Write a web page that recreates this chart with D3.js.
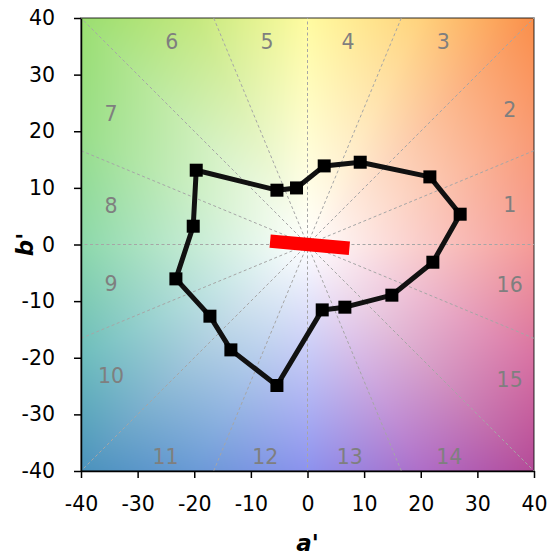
<!DOCTYPE html>
<html lang="en">
<head>
    <meta charset="UTF-8">
    <script src="https://d3js.org/d3.v7.min.js"></script>
    <title>Color vector graphic</title>
    <style>
      body {
         margin: 0;
         background: #ffffff;
      }
      svg {
         display: block;
         font-family: 'DejaVu Sans', sans-serif;
      }
    </style>
</head>
<body>
    <div id="wrapper"></div>

<script>
   // tick values for both axes
   const axisTicks = [-40, -30, -20, -10, 0, 10, 20, 30, 40];

   // hue bin labels (16 bins of 22.5 deg each)
   const binLabels = ["1","2","3","4","5","6","7","8","9","10","11","12","13","14","15","16"];

   // test source, one point per hue bin
   const testA = [26.96, 21.61, 9.31, 2.95, -1.94, -5.40, -19.65, -20.18, -23.24, -17.23, -13.53, -5.40, 2.60, 6.60, 14.90, 22.14];
   const testB = [5.35, 11.94, 14.53, 13.88, 9.99, 9.59, 13.12, 3.23, -6.07, -12.66, -18.61, -24.90, -11.55, -11.07, -8.95, -3.13];

   // red chroma shift bar
   const shiftA = [-6.6, 7.4];
   const shiftB = [0.6, -0.65];

   // colours along the border of the plane, going round from a'=40,b'=0 anti-clockwise
   const edgeColors = ["#f59b96", "#f99a72", "#fa8f4a", "#ffd27d", "#fffba0", "#c4e87e", "#9ade70", "#98de88",
                       "#8cd8aa", "#6cbcbc", "#4a92bc", "#6a9ad6", "#8c92ee", "#ae6ec8", "#b44a98", "#d872a2"];

   let dimensions, bounds, xScale, yScale;

   drawChart();

   function drawChart(){
      CreateChartDimension();
      DrawCanvas();
      CreateScales();
      DrawBackground();
      DrawBins();
      DrawData();
      DrawPeripherals();
   }

   function CreateChartDimension(){
      dimensions = {
         width: 555,
         height: 558,
         margin: {
            top: 18,
            right: 21,
            bottom: 87,
            left: 81
         }
      }
      dimensions.boundedWidth = dimensions.width - dimensions.margin.left - dimensions.margin.right;
      dimensions.boundedHeight = dimensions.height - dimensions.margin.top - dimensions.margin.bottom;
   }

   function DrawCanvas(){
      const wrapper = d3.select("#wrapper")
         .append("svg")
            .attr("width", dimensions.width)
            .attr("height", dimensions.height);

      bounds = wrapper.append("g")
         .attr("transform", "translate(" + dimensions.margin.left + "," + dimensions.margin.top + ")");
   }

   function CreateScales(){
      xScale = d3.scaleLinear()
         .domain([-40, 40])
         .range([0, dimensions.boundedWidth]);
      yScale = d3.scaleLinear()
         .domain([-40, 40])
         .range([dimensions.boundedHeight, 0]);
   }

   function DrawBackground(){
      const w = Math.round(dimensions.boundedWidth);
      const h = Math.round(dimensions.boundedHeight);
      const canvas = document.createElement("canvas");
      canvas.width = w;
      canvas.height = h;
      const ctx = canvas.getContext("2d");
      const img = ctx.createImageData(w, h);
      const cols = edgeColors.map(c => d3.rgb(c));
      const maxV = 40;

      for (let py = 0; py < h; py++) {
         const b = yScale.invert(py + 0.5);
         for (let px = 0; px < w; px++) {
            const a = xScale.invert(px + 0.5);
            const m = Math.max(Math.abs(a), Math.abs(b), 1e-6);
            const s = maxV / m;
            const pa = a * s, pb = b * s;
            // position along the border, 0..16
            let u;
            if (pa >= maxV - 1e-9) u = pb >= 0 ? pb / 20 : 16 + pb / 20;
            else if (pb >= maxV - 1e-9) u = 2 + (maxV - pa) / 20;
            else if (pa <= -maxV + 1e-9) u = 6 + (maxV - pb) / 20;
            else u = 10 + (pa + maxV) / 20;
            u = ((u % 16) + 16) % 16;
            const i = Math.floor(u), f = u - i;
            const c0 = cols[i], c1 = cols[(i + 1) % 16];
            const t = Math.min(1, m / maxV);
            const r = c0.r + (c1.r - c0.r) * f;
            const g = c0.g + (c1.g - c0.g) * f;
            const bl = c0.b + (c1.b - c0.b) * f;
            const k = (py * w + px) * 4;
            img.data[k] = 255 + (r - 255) * t;
            img.data[k + 1] = 255 + (g - 255) * t;
            img.data[k + 2] = 255 + (bl - 255) * t;
            img.data[k + 3] = 255;
         }
      }
      ctx.putImageData(img, 0, 0);

      bounds.append("image")
         .attr("x", 0)
         .attr("y", 0)
         .attr("width", w)
         .attr("height", h)
         .attr("preserveAspectRatio", "none")
         .attr("href", canvas.toDataURL());

      // darker frame on the plot edges
      bounds.append("rect")
         .attr("width", dimensions.boundedWidth)
         .attr("height", dimensions.boundedHeight)
         .attr("fill", "none")
         .attr("stroke", "rgba(0,0,0,0.55)")
         .attr("stroke-width", 1.5);
   }

   function DrawBins(){
      const clipId = "plotClip";
      bounds.append("clipPath")
         .attr("id", clipId)
         .append("rect")
            .attr("width", dimensions.boundedWidth)
            .attr("height", dimensions.boundedHeight);

      // dashed bin borders every 22.5 deg
      const angles = d3.range(16).map(i => i * 22.5 * Math.PI / 180);
      bounds.append("g")
         .attr("clip-path", "url(#" + clipId + ")")
         .selectAll("line")
         .data(angles)
         .join("line")
            .attr("x1", xScale(0))
            .attr("y1", yScale(0))
            .attr("x2", d => xScale(80 * Math.cos(d)))
            .attr("y2", d => yScale(80 * Math.sin(d)))
            .attr("stroke", "#a6a6a6")
            .attr("stroke-width", 1)
            .attr("stroke-dasharray", "3,2.5");

      // bin numbers sit on a box near the frame, at the middle angle of each bin
      const box = {right: 35.7, left: -34.7, top: 35.9, bottom: -37.5};
      const labelPos = binLabels.map((lab, i) => {
         const ang = (11.25 + 22.5 * i) * Math.PI / 180;
         const cx = Math.cos(ang), cy = Math.sin(ang);
         const tx = cx > 0 ? box.right / cx : box.left / cx;
         const ty = cy > 0 ? box.top / cy : box.bottom / cy;
         const t = Math.min(tx, ty);
         return {label: lab, a: cx * t, b: cy * t};
      });

      bounds.append("g")
         .selectAll("text")
         .data(labelPos)
         .join("text")
            .attr("x", d => xScale(d.a))
            .attr("y", d => yScale(d.b))
            .attr("dy", "0.36em")
            .attr("text-anchor", "middle")
            .attr("fill", "#7f7f7f")
            .style("font-size", "20.5px")
            .text(d => d.label);
   }

   function DrawData(){
      const points = testA.map((a, i) => ({a: a, b: testB[i]}));

      const line = d3.line()
         .x(d => xScale(d.a))
         .y(d => yScale(d.b));

      bounds.append("path")
         .attr("d", line(points) + "Z")
         .attr("fill", "none")
         .attr("stroke", "#111111")
         .attr("stroke-width", 5)
         .attr("stroke-linejoin", "round");

      const size = 13;
      bounds.append("g")
         .selectAll("rect")
         .data(points)
         .join("rect")
            .attr("x", d => xScale(d.a) - size / 2)
            .attr("y", d => yScale(d.b) - size / 2)
            .attr("width", size)
            .attr("height", size)
            .attr("fill", "#000000");

      const shift = shiftA.map((a, i) => ({a: a, b: shiftB[i]}));
      bounds.append("path")
         .attr("d", line(shift))
         .attr("fill", "none")
         .attr("stroke", "#ff0000")
         .attr("stroke-width", 13.5)
         .attr("stroke-linecap", "butt");
   }

   function DrawPeripherals(){
      const xAxisGenerator = d3.axisBottom()
         .scale(xScale)
         .tickValues(axisTicks)
         .tickFormat(d => String(d))
         .tickSizeInner(7)
         .tickSizeOuter(0)
         .tickPadding(18);
      const xAxis = bounds.append("g")
         .attr("transform", "translate(0," + dimensions.boundedHeight + ")")
         .call(xAxisGenerator);

      const yAxisGenerator = d3.axisLeft()
         .scale(yScale)
         .tickValues(axisTicks)
         .tickFormat(d => String(d))
         .tickSizeInner(7)
         .tickSizeOuter(0)
         .tickPadding(19);
      const yAxis = bounds.append("g")
         .call(yAxisGenerator);

      [xAxis, yAxis].forEach(ax => {
         ax.select(".domain").attr("stroke", "#000").attr("stroke-width", 1.5);
         ax.selectAll(".tick line").attr("stroke", "#000").attr("stroke-width", 1.5);
         ax.selectAll(".tick text")
            .attr("fill", "#000")
            .style("font-family", "'DejaVu Sans', sans-serif")
            .style("font-size", "20.5px");
      });

      bounds.append("text")
         .attr("x", dimensions.boundedWidth / 2)
         .attr("y", dimensions.boundedHeight + 80)
         .attr("text-anchor", "middle")
         .style("font-size", "23px")
         .style("font-weight", "bold")
         .style("font-style", "italic")
         .text("a'");

      bounds.append("text")
         .attr("transform", "translate(" + (-dimensions.margin.left + 33) + "," + (dimensions.boundedHeight / 2) + ") rotate(-90)")
         .attr("text-anchor", "middle")
         .style("font-size", "23px")
         .style("font-weight", "bold")
         .style("font-style", "italic")
         .text("b'");
   }
</script>
</body>
</html>
